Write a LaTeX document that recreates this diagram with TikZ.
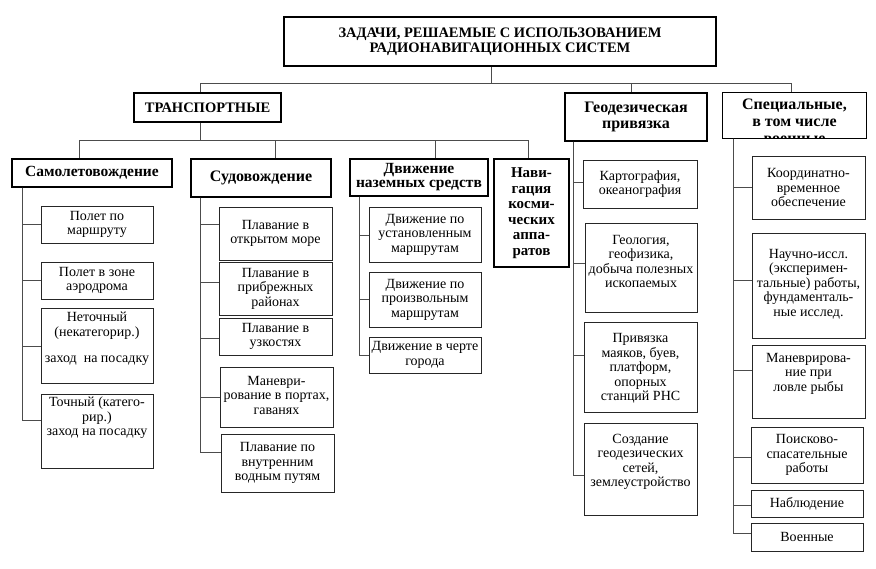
\documentclass[tikz,border=0pt]{standalone}
\usepackage{fontspec}
\setmainfont{Liberation Serif}
\newcommand\fT{\fontsize{14.5}{15.5}\selectfont\bfseries}
\newcommand\fH{\fontsize{16}{16}\selectfont\bfseries}
\newcommand\fC{\fontsize{14}{14.5}\selectfont}
\tikzset{
  box/.style={draw=black!85, line width=0.8pt, fill=white, inner xsep=2pt, inner ysep=3pt, font=\fC},
  hbox/.style={box, line width=1.2pt, draw=black, font=\fH},
  ln/.style={draw=black!70, line width=0.8pt}
}
% #1 style, #2 name, #3 x1, #4 y1, #5 x2, #6 y2, #7 valign, #8 text
\newcommand\bx[8][box]{\node[#1] (#2) at ({(#3+#5)/2},{(#4+#6)/2}) {\parbox[c][\dimexpr #6pt-#4pt-6pt\relax][#7]{\dimexpr #5pt-#3pt-4pt\relax}{\centering #8}};}
\begin{document}
\begin{tikzpicture}[x=1pt,y=-1pt]
\useasboundingbox[fill=white] (0,0) rectangle (876,568);

% title
\bx[box, line width=2.6pt, draw=black, font=\fT]{title}{284}{17}{716}{66}{c}{ЗАДАЧИ, РЕШАЕМЫЕ С ИСПОЛЬЗОВАНИЕМ\\РАДИОНАВИГАЦИОННЫХ СИСТЕМ}

% level 1
\bx[hbox]{trans}{134}{93}{281}{122}{c}{\fontsize{14.5}{15}\selectfont ТРАНСПОРТНЫЕ}
\bx[hbox]{geo}{565}{93}{707}{141}{c}{\fontsize{16}{15.5}\selectfont Геодезическая\\привязка}
\begin{scope}
\clip (723,93) rectangle (866,138);
\bx[hbox, draw=none]{spec}{723}{93}{866}{138}{t}{\vspace*{3pt}\fontsize{16}{17}\selectfont Специальные,\\в том числе\\военные}
\end{scope}
\draw[line width=1.2pt] (spec.south west) rectangle (spec.north east);

% level 2
\bx[hbox]{samo}{12}{159}{172}{187}{c}{\fontsize{15.5}{16}\selectfont Самолетовождение}
\bx[hbox]{sud}{191}{159}{331}{197}{c}{Судовождение}
\bx[hbox]{dvig}{350}{159}{488}{196}{c}{\fontsize{15.5}{14}\selectfont Движение\\наземных средств}
\bx[hbox]{nav}{494}{159}{569}{267}{c}{\fontsize{15}{15.5}\selectfont Нави-\\гация\\косми-\\ческих\\аппа-\\ратов}

% children
\bx{s1}{41}{206}{153}{243}{c}{Полет по\\маршруту}
\bx{s2}{41}{262}{153}{299}{c}{Полет в зоне\\аэродрома}
\bx{s3}{41}{308}{153}{383}{t}{\vspace*{1pt}Неточный\\(некатегорир.)\\[12pt]заход\ \ на посадку}
\bx{s4}{41}{394}{153}{468}{t}{Точный (катего-\\рир.)\\заход на посадку}

\bx{v1}{219}{207}{332}{260}{c}{Плавание в\\открытом море}
\bx{v2}{219}{262}{332}{315}{c}{Плавание в\\прибрежных\\районах}
\bx{v3}{219}{318}{332}{355}{c}{Плавание в\\узкостях}
\bx{v4}{220}{367}{333}{427}{t}{\vspace*{6pt}Маневри-\\рование в портах,\\гаванях}
\bx{v5}{221}{434}{334}{492}{c}{Плавание по\\внутренним\\водным путям}

\bx{d1}{369}{207}{481}{262}{c}{Движение по\\установленным\\маршрутам}
\bx{d2}{369}{272}{481}{327}{c}{Движение по\\произвольным\\маршрутам}
\bx{d3}{369}{337}{481}{373}{c}{Движение в черте\\города}

\bx{g1}{583}{160}{697}{208}{c}{Картография,\\океанография}
\bx{g2}{585}{223}{697}{312}{t}{\vspace*{9pt}Геология,\\геофизика,\\добыча полезных\\ископаемых}
\bx{g3}{584}{322}{697}{412}{c}{\vspace*{3pt}Привязка\\маяков, буев,\\платформ,\\опорных\\станций РНС}
\bx{g4}{584}{423}{697}{515}{t}{\vspace*{8pt}Создание\\геодезических\\сетей,\\землеустройство}

\bx{p1}{752}{156}{865}{219}{c}{Координатно-\\временное\\обеспечение}
\bx{p2}{752}{233}{865}{338}{t}{\vspace*{13pt}Научно-иссл.\\(эксперимен-\\тальные) работы,\\фундаменталь-\\ные исслед.}
\bx{p3}{752}{345}{865}{418}{t}{\vspace*{5pt}Маневрирова-\\ние при\\ловле рыбы}
\bx{p4}{751}{427}{863}{483}{c}{Поисково-\\спасательные\\работы}
\bx{p5}{751}{490}{863}{517}{c}{Наблюдение}
\bx{p6}{751}{523}{863}{551}{c}{Военные}

% connectors: top level
\coordinate (tj) at (491,83);
\draw[ln] (title.south -| tj) -- (tj);
\draw[ln] (tj) -| (trans.north -| 200,0);
\draw[ln] (tj) -| (geo.north -| 631,0);
\draw[ln] (tj) -| (spec.north -| 791,0);

% transport level
\coordinate (tt) at (200,140);
\draw[ln] (trans.south -| tt) -- (tt);
\draw[ln] (tt) -| (samo.north -| 79,0);
\draw[ln] (tt) -| (sud.north -| 275,0);
\draw[ln] (tt) -| (dvig.north -| 435,0);
\draw[ln] (tt) -| (nav.north -| 528,0);

% children connectors
\draw[ln] (samo.south -| 22,0) |- (s1.west |- 0,224);
\draw[ln] (samo.south -| 22,0) |- (s2.west |- 0,280);
\draw[ln] (samo.south -| 22,0) |- (s3.west |- 0,346);
\draw[ln] (samo.south -| 22,0) |- (s4.west |- 0,420);

\draw[ln] (sud.south -| 200,0) |- (v1.west |- 0,224);
\draw[ln] (sud.south -| 200,0) |- (v2.west |- 0,282);
\draw[ln] (sud.south -| 200,0) |- (v3.west |- 0,338);
\draw[ln] (sud.south -| 200,0) |- (v4.west |- 0,397);
\draw[ln] (sud.south -| 200,0) |- (v5.west |- 0,452);

\draw[ln] (dvig.south -| 359,0) |- (d1.west |- 0,235);
\draw[ln] (dvig.south -| 359,0) |- (d2.west |- 0,299);
\draw[ln] (dvig.south -| 359,0) |- (d3.west |- 0,355);

\draw[ln] (geo.south -| 573,0) |- (g1.west |- 0,182);
\draw[ln] (geo.south -| 573,0) |- (g2.west |- 0,263);
\draw[ln] (geo.south -| 573,0) |- (g3.west |- 0,355);
\draw[ln] (geo.south -| 573,0) |- (g4.west |- 0,475);

\draw[ln] (spec.south -| 733,0) |- (p1.west |- 0,187);
\draw[ln] (spec.south -| 733,0) |- (p2.west |- 0,280);
\draw[ln] (spec.south -| 733,0) |- (p3.west |- 0,370);
\draw[ln] (spec.south -| 733,0) |- (p4.west |- 0,457);
\draw[ln] (spec.south -| 733,0) |- (p5.west |- 0,505);
\draw[ln] (spec.south -| 733,0) |- (p6.west |- 0,533);
\end{tikzpicture}
\end{document}
